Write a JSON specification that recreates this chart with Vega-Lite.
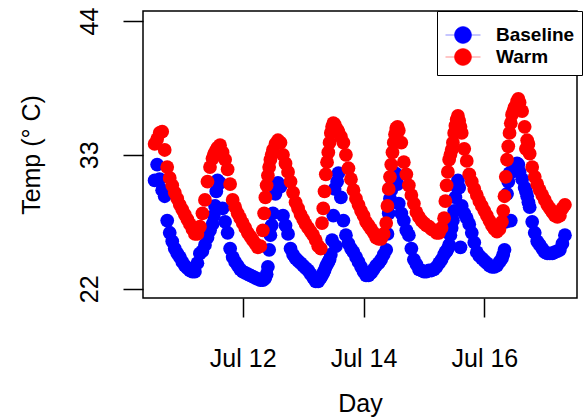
{
"$schema": "https://vega.github.io/schema/vega-lite/v6.json",
"width": 434, "height": 287,
"autosize": {"type": "none"},
"padding": {"left": 143, "top": 11, "right": 6, "bottom": 122},
"background": "white",
"config": {"view": {"stroke": "black", "strokeWidth": 1.5}, "font": "Liberation Sans"},
"data": {"values": [
{"t":"2014-07-10T13:00","Baseline":30.9,"Warm":33.9},
{"t":"2014-07-10T14:00","Baseline":32.2,"Warm":34.3},
{"t":"2014-07-10T15:00","Baseline":31.0,"Warm":34.8},
{"t":"2014-07-10T16:00","Baseline":30.1,"Warm":34.9},
{"t":"2014-07-10T17:00","Baseline":29.6,"Warm":33.4},
{"t":"2014-07-10T18:00","Baseline":27.6,"Warm":32.0},
{"t":"2014-07-10T19:00","Baseline":26.6,"Warm":31.1},
{"t":"2014-07-10T20:00","Baseline":25.9,"Warm":30.5},
{"t":"2014-07-10T21:00","Baseline":25.3,"Warm":29.9},
{"t":"2014-07-10T22:00","Baseline":24.9,"Warm":29.4},
{"t":"2014-07-10T23:00","Baseline":24.6,"Warm":28.9},
{"t":"2014-07-11T00:00","Baseline":24.2,"Warm":28.5},
{"t":"2014-07-11T01:00","Baseline":23.9,"Warm":28.1},
{"t":"2014-07-11T02:00","Baseline":23.7,"Warm":27.7},
{"t":"2014-07-11T03:00","Baseline":23.5,"Warm":27.3},
{"t":"2014-07-11T04:00","Baseline":23.4,"Warm":26.9},
{"t":"2014-07-11T05:00","Baseline":23.4,"Warm":26.5},
{"t":"2014-07-11T06:00","Baseline":24.1,"Warm":26.5},
{"t":"2014-07-11T07:00","Baseline":24.9,"Warm":27.1},
{"t":"2014-07-11T08:00","Baseline":25.1,"Warm":28.2},
{"t":"2014-07-11T09:00","Baseline":25.6,"Warm":29.3},
{"t":"2014-07-11T10:00","Baseline":26.2,"Warm":30.8},
{"t":"2014-07-11T11:00","Baseline":26.8,"Warm":32.0},
{"t":"2014-07-11T12:00","Baseline":27.3,"Warm":32.7},
{"t":"2014-07-11T12:30","Baseline":28.0,"Warm":33.0},
{"t":"2014-07-11T13:00","Baseline":28.8,"Warm":33.2},
{"t":"2014-07-11T13:30","Baseline":30.0,"Warm":33.4},
{"t":"2014-07-11T14:00","Baseline":30.9,"Warm":33.6},
{"t":"2014-07-11T15:00","Baseline":30.7,"Warm":33.8},
{"t":"2014-07-11T16:00","Baseline":28.6,"Warm":33.2},
{"t":"2014-07-11T17:00","Baseline":27.5,"Warm":32.6},
{"t":"2014-07-11T18:00","Baseline":26.6,"Warm":31.8},
{"t":"2014-07-11T19:00","Baseline":25.3,"Warm":30.6},
{"t":"2014-07-11T20:00","Baseline":24.6,"Warm":29.3},
{"t":"2014-07-11T21:00","Baseline":24.2,"Warm":28.7},
{"t":"2014-07-11T22:00","Baseline":23.9,"Warm":28.2},
{"t":"2014-07-11T23:00","Baseline":23.6,"Warm":27.8},
{"t":"2014-07-12T00:00","Baseline":23.4,"Warm":27.4},
{"t":"2014-07-12T01:00","Baseline":23.3,"Warm":27.0},
{"t":"2014-07-12T02:00","Baseline":23.2,"Warm":26.6},
{"t":"2014-07-12T03:00","Baseline":23.1,"Warm":26.3},
{"t":"2014-07-12T04:00","Baseline":23.0,"Warm":26.0},
{"t":"2014-07-12T05:00","Baseline":22.9,"Warm":25.7},
{"t":"2014-07-12T06:00","Baseline":22.8,"Warm":25.4},
{"t":"2014-07-12T07:00","Baseline":22.7,"Warm":25.5},
{"t":"2014-07-12T08:00","Baseline":22.7,"Warm":26.8},
{"t":"2014-07-12T08:30","Baseline":22.8,"Warm":28.2},
{"t":"2014-07-12T09:00","Baseline":22.9,"Warm":29.5},
{"t":"2014-07-12T09:30","Baseline":23.2,"Warm":30.5},
{"t":"2014-07-12T10:00","Baseline":23.8,"Warm":31.3},
{"t":"2014-07-12T10:30","Baseline":25.2,"Warm":32.0},
{"t":"2014-07-12T11:00","Baseline":26.4,"Warm":32.6},
{"t":"2014-07-12T11:30","Baseline":27.2,"Warm":33.0},
{"t":"2014-07-12T12:00","Baseline":28.2,"Warm":33.4},
{"t":"2014-07-12T13:00","Baseline":29.8,"Warm":33.9},
{"t":"2014-07-12T14:00","Baseline":30.7,"Warm":34.2},
{"t":"2014-07-12T15:00","Baseline":30.4,"Warm":34.0},
{"t":"2014-07-12T16:00","Baseline":28.0,"Warm":33.0},
{"t":"2014-07-12T17:00","Baseline":27.2,"Warm":32.3},
{"t":"2014-07-12T18:00","Baseline":26.5,"Warm":31.6},
{"t":"2014-07-12T19:00","Baseline":25.3,"Warm":30.8},
{"t":"2014-07-12T20:00","Baseline":24.8,"Warm":29.9},
{"t":"2014-07-12T21:00","Baseline":24.5,"Warm":29.1},
{"t":"2014-07-12T22:00","Baseline":24.3,"Warm":28.6},
{"t":"2014-07-12T23:00","Baseline":24.1,"Warm":28.1},
{"t":"2014-07-13T00:00","Baseline":23.9,"Warm":27.7},
{"t":"2014-07-13T01:00","Baseline":23.7,"Warm":27.3},
{"t":"2014-07-13T02:00","Baseline":23.5,"Warm":27.0},
{"t":"2014-07-13T03:00","Baseline":23.2,"Warm":26.7},
{"t":"2014-07-13T04:00","Baseline":22.9,"Warm":26.4},
{"t":"2014-07-13T05:00","Baseline":22.6,"Warm":26.0},
{"t":"2014-07-13T06:00","Baseline":22.6,"Warm":25.5},
{"t":"2014-07-13T07:00","Baseline":22.9,"Warm":25.3},
{"t":"2014-07-13T07:30","Baseline":23.1,"Warm":27.4},
{"t":"2014-07-13T08:00","Baseline":23.3,"Warm":28.6},
{"t":"2014-07-13T08:30","Baseline":23.5,"Warm":30.0},
{"t":"2014-07-13T09:00","Baseline":23.8,"Warm":31.4},
{"t":"2014-07-13T09:30","Baseline":24.0,"Warm":32.4},
{"t":"2014-07-13T10:00","Baseline":24.2,"Warm":33.2},
{"t":"2014-07-13T10:30","Baseline":24.4,"Warm":34.0},
{"t":"2014-07-13T11:00","Baseline":24.8,"Warm":34.8},
{"t":"2014-07-13T11:30","Baseline":26.0,"Warm":35.3},
{"t":"2014-07-13T12:00","Baseline":28.0,"Warm":35.6},
{"t":"2014-07-13T12:30","Baseline":30.2,"Warm":35.5},
{"t":"2014-07-13T13:00","Baseline":25.5,"Warm":35.2},
{"t":"2014-07-13T13:30","Baseline":30.8,"Warm":35.1},
{"t":"2014-07-13T14:00","Baseline":31.5,"Warm":34.9},
{"t":"2014-07-13T15:00","Baseline":29.5,"Warm":34.5},
{"t":"2014-07-13T16:00","Baseline":27.6,"Warm":34.0},
{"t":"2014-07-13T17:00","Baseline":26.4,"Warm":33.0},
{"t":"2014-07-13T18:00","Baseline":25.7,"Warm":31.9},
{"t":"2014-07-13T19:00","Baseline":25.3,"Warm":31.0},
{"t":"2014-07-13T20:00","Baseline":25.0,"Warm":30.1},
{"t":"2014-07-13T21:00","Baseline":24.6,"Warm":29.4},
{"t":"2014-07-13T22:00","Baseline":24.2,"Warm":28.9},
{"t":"2014-07-13T23:00","Baseline":23.8,"Warm":28.4},
{"t":"2014-07-14T00:00","Baseline":23.4,"Warm":28.0},
{"t":"2014-07-14T01:00","Baseline":23.1,"Warm":27.5},
{"t":"2014-07-14T02:00","Baseline":23.1,"Warm":27.2},
{"t":"2014-07-14T03:00","Baseline":23.3,"Warm":26.9},
{"t":"2014-07-14T04:00","Baseline":23.6,"Warm":26.6},
{"t":"2014-07-14T05:00","Baseline":23.9,"Warm":26.2},
{"t":"2014-07-14T06:00","Baseline":24.1,"Warm":26.1},
{"t":"2014-07-14T07:00","Baseline":24.4,"Warm":26.1},
{"t":"2014-07-14T08:00","Baseline":24.8,"Warm":26.5},
{"t":"2014-07-14T09:00","Baseline":25.2,"Warm":27.4},
{"t":"2014-07-14T09:30","Baseline":26.5,"Warm":28.8},
{"t":"2014-07-14T10:00","Baseline":28.2,"Warm":30.2},
{"t":"2014-07-14T10:30","Baseline":29.4,"Warm":31.2},
{"t":"2014-07-14T11:00","Baseline":30.1,"Warm":32.2},
{"t":"2014-07-14T11:30","Baseline":30.8,"Warm":33.2},
{"t":"2014-07-14T12:00","Baseline":31.3,"Warm":34.0},
{"t":"2014-07-14T12:30","Baseline":31.5,"Warm":34.7},
{"t":"2014-07-14T13:00","Baseline":31.4,"Warm":35.2},
{"t":"2014-07-14T13:30","Baseline":30.6,"Warm":35.3},
{"t":"2014-07-14T14:00","Baseline":29.0,"Warm":35.0},
{"t":"2014-07-14T15:00","Baseline":28.2,"Warm":34.0},
{"t":"2014-07-14T16:00","Baseline":27.6,"Warm":32.4},
{"t":"2014-07-14T17:00","Baseline":26.8,"Warm":31.4},
{"t":"2014-07-14T18:00","Baseline":26.4,"Warm":30.5},
{"t":"2014-07-14T19:00","Baseline":25.3,"Warm":29.7},
{"t":"2014-07-14T20:00","Baseline":24.4,"Warm":29.0},
{"t":"2014-07-14T21:00","Baseline":24.0,"Warm":28.3},
{"t":"2014-07-14T22:00","Baseline":23.6,"Warm":27.9},
{"t":"2014-07-14T23:00","Baseline":23.5,"Warm":27.6},
{"t":"2014-07-15T00:00","Baseline":23.4,"Warm":27.4},
{"t":"2014-07-15T01:00","Baseline":23.4,"Warm":27.2},
{"t":"2014-07-15T02:00","Baseline":23.5,"Warm":27.1},
{"t":"2014-07-15T03:00","Baseline":23.5,"Warm":26.9},
{"t":"2014-07-15T04:00","Baseline":23.6,"Warm":26.8},
{"t":"2014-07-15T05:00","Baseline":23.8,"Warm":26.6},
{"t":"2014-07-15T06:00","Baseline":24.1,"Warm":26.6},
{"t":"2014-07-15T07:00","Baseline":24.4,"Warm":27.0},
{"t":"2014-07-15T08:00","Baseline":24.8,"Warm":27.8},
{"t":"2014-07-15T08:30","Baseline":25.0,"Warm":29.2},
{"t":"2014-07-15T09:00","Baseline":25.1,"Warm":30.5},
{"t":"2014-07-15T09:30","Baseline":25.3,"Warm":31.6},
{"t":"2014-07-15T10:00","Baseline":25.6,"Warm":32.6},
{"t":"2014-07-15T10:30","Baseline":26.4,"Warm":33.0},
{"t":"2014-07-15T11:00","Baseline":27.0,"Warm":33.4},
{"t":"2014-07-15T11:30","Baseline":27.6,"Warm":34.0},
{"t":"2014-07-15T12:00","Baseline":28.4,"Warm":34.8},
{"t":"2014-07-15T12:30","Baseline":29.5,"Warm":35.4},
{"t":"2014-07-15T13:00","Baseline":30.4,"Warm":35.9},
{"t":"2014-07-15T13:30","Baseline":30.9,"Warm":36.2},
{"t":"2014-07-15T14:00","Baseline":30.3,"Warm":35.8},
{"t":"2014-07-15T14:30","Baseline":25.4,"Warm":35.3},
{"t":"2014-07-15T15:00","Baseline":28.8,"Warm":34.8},
{"t":"2014-07-15T16:00","Baseline":28.2,"Warm":33.5},
{"t":"2014-07-15T17:00","Baseline":27.8,"Warm":32.5},
{"t":"2014-07-15T18:00","Baseline":27.3,"Warm":31.4},
{"t":"2014-07-15T19:00","Baseline":26.6,"Warm":30.8},
{"t":"2014-07-15T20:00","Baseline":25.8,"Warm":30.2},
{"t":"2014-07-15T21:00","Baseline":25.0,"Warm":29.7},
{"t":"2014-07-15T22:00","Baseline":24.7,"Warm":29.2},
{"t":"2014-07-15T23:00","Baseline":24.5,"Warm":28.8},
{"t":"2014-07-16T00:00","Baseline":24.3,"Warm":28.4},
{"t":"2014-07-16T01:00","Baseline":24.1,"Warm":28.0},
{"t":"2014-07-16T02:00","Baseline":23.9,"Warm":27.6},
{"t":"2014-07-16T03:00","Baseline":23.8,"Warm":27.2},
{"t":"2014-07-16T04:00","Baseline":23.8,"Warm":26.9},
{"t":"2014-07-16T05:00","Baseline":23.9,"Warm":26.7},
{"t":"2014-07-16T06:00","Baseline":24.2,"Warm":26.9},
{"t":"2014-07-16T07:00","Baseline":24.5,"Warm":27.5},
{"t":"2014-07-16T07:30","Baseline":24.8,"Warm":28.4},
{"t":"2014-07-16T08:00","Baseline":25.2,"Warm":29.6},
{"t":"2014-07-16T08:30","Baseline":27.5,"Warm":31.2},
{"t":"2014-07-16T09:00","Baseline":29.8,"Warm":32.6},
{"t":"2014-07-16T09:30","Baseline":30.8,"Warm":33.7},
{"t":"2014-07-16T10:00","Baseline":31.5,"Warm":34.8},
{"t":"2014-07-16T10:30","Baseline":27.6,"Warm":35.6},
{"t":"2014-07-16T11:00","Baseline":31.6,"Warm":36.3},
{"t":"2014-07-16T11:30","Baseline":31.8,"Warm":36.6},
{"t":"2014-07-16T12:00","Baseline":32.1,"Warm":36.9},
{"t":"2014-07-16T13:00","Baseline":32.3,"Warm":37.4},
{"t":"2014-07-16T13:30","Baseline":32.2,"Warm":37.6},
{"t":"2014-07-16T14:00","Baseline":31.6,"Warm":37.3},
{"t":"2014-07-16T15:00","Baseline":31.0,"Warm":36.6},
{"t":"2014-07-16T16:00","Baseline":30.3,"Warm":35.3},
{"t":"2014-07-16T16:30","Baseline":30.0,"Warm":33.5},
{"t":"2014-07-16T17:00","Baseline":29.6,"Warm":34.2},
{"t":"2014-07-16T17:30","Baseline":29.1,"Warm":33.9},
{"t":"2014-07-16T18:00","Baseline":28.7,"Warm":33.1},
{"t":"2014-07-16T19:00","Baseline":27.5,"Warm":32.0},
{"t":"2014-07-16T20:00","Baseline":26.6,"Warm":31.2},
{"t":"2014-07-16T21:00","Baseline":25.9,"Warm":30.6},
{"t":"2014-07-16T22:00","Baseline":25.6,"Warm":30.1},
{"t":"2014-07-16T23:00","Baseline":25.3,"Warm":29.7},
{"t":"2014-07-17T00:00","Baseline":25.0,"Warm":29.3},
{"t":"2014-07-17T01:00","Baseline":24.9,"Warm":28.9},
{"t":"2014-07-17T02:00","Baseline":24.9,"Warm":28.6},
{"t":"2014-07-17T03:00","Baseline":24.9,"Warm":28.3},
{"t":"2014-07-17T04:00","Baseline":25.0,"Warm":28.0},
{"t":"2014-07-17T05:00","Baseline":25.1,"Warm":27.9},
{"t":"2014-07-17T06:00","Baseline":25.2,"Warm":28.0},
{"t":"2014-07-17T07:00","Baseline":25.7,"Warm":28.6},
{"t":"2014-07-17T08:00","Baseline":26.4,"Warm":28.9}
]},
"transform": [{"fold": ["Baseline", "Warm"], "as": ["series", "temp"]}],
"mark": {"type": "point", "filled": true, "opacity": 1, "size": 190, "shape": "circle"},
"encoding": {
  "x": {"field": "t", "type": "temporal",
        "scale": {"domain": [{"year": 2014, "month": 7, "date": 10, "hours": 8, "minutes": 23}, {"year": 2014, "month": 7, "date": 17, "hours": 12, "minutes": 48}]},
        "axis": {"values": [{"year": 2014, "month": 7, "date": 12}, {"year": 2014, "month": 7, "date": 14}, {"year": 2014, "month": 7, "date": 16}],
                 "format": "%b %d", "title": "Day", "grid": false, "domain": false,
                 "tickSize": 19, "tickWidth": 1.5, "tickColor": "black",
                 "labelFontSize": 25, "labelPadding": 29, "labelColor": "#000",
                 "titleFontSize": 25, "titleFontWeight": "normal", "titlePadding": 20, "titleColor": "#000"}},
  "y": {"field": "temp", "type": "quantitative",
        "scale": {"domain": [21.24, 44.82], "nice": false, "zero": false},
        "axis": {"values": [22, 33, 44], "title": "Temp (° C)", "grid": false, "domain": false,
                 "tickSize": 20, "tickWidth": 1.5, "tickColor": "black",
                 "labelAngle": -90, "labelAlign": "center", "labelBaseline": "alphabetic",
                 "labelFontSize": 25, "labelPadding": 26, "labelColor": "#000",
                 "titleFontSize": 25, "titleFontWeight": "normal", "titlePadding": 33, "titleColor": "#000"}},
  "color": {"field": "series", "type": "nominal",
            "scale": {"domain": ["Baseline", "Warm"], "range": ["#0000ff", "#ff0000"]},
            "legend": {"orient": "none", "legendX": 294, "legendY": 0, "title": " ", "titleFontSize": 6, "titlePadding": 0, "direction": "vertical",
                       "strokeColor": "black", "fillColor": "white", "padding": 7, "clipHeight": 22,
                       "symbolType": "M -1 0 L 1 0 M 0.486 0 A 0.486 0.486 0 1 1 -0.486 0 A 0.486 0.486 0 1 1 0.486 0 Z",
                       "symbolSize": 1225, "symbolStrokeWidth": 1, "symbolOpacity": 1, "symbolOffset": 1,
                       "labelFontSize": 19, "labelFontWeight": "bold", "labelColor": "#000", "labelOffset": 15, "rowPadding": 0,
                       "encode": {"symbols": {"update": {"stroke": {"scale": "color", "field": "value"}, "strokeOpacity": {"value": 0.45}}}}}},
  "order": {"field": "series"}
}
}
